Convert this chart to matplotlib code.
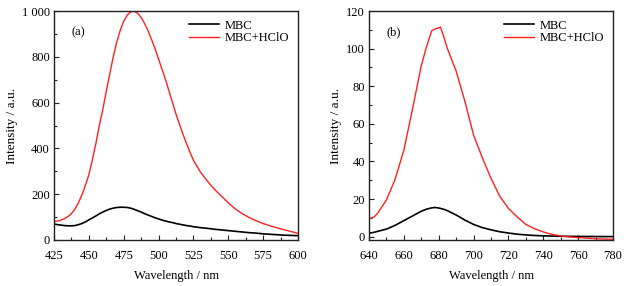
import matplotlib
matplotlib.use("Agg")
import matplotlib.pyplot as plt
from matplotlib.ticker import MultipleLocator

plt.rcParams['font.family'] = ['Liberation Serif', 'DejaVu Serif']
plt.rcParams['font.size'] = 8.5

# panel (a) data
wl_a = [425, 427.5, 430, 432.5, 435, 437.5, 440, 442.5, 445, 447.5, 450, 452.5, 455, 457.5,
        460, 462.5, 465, 467.5, 470, 472.5, 475, 477.5, 480, 482.5, 485, 487.5, 490, 492.5,
        495, 497.5, 500, 502.5, 505, 507.5, 510, 512.5, 515, 517.5, 520, 522.5, 525, 530,
        535, 540, 545, 550, 555, 560, 565, 570, 575, 580, 585, 590, 595, 600]
mbc_a = [70, 67, 65, 63, 62, 62, 63, 67, 72, 79, 88, 96, 105, 114,
         122, 129, 135, 139, 142, 143, 143, 142, 139, 134, 128, 122, 115, 109,
         103, 97, 92, 87, 83, 79, 76, 72, 69, 66, 63, 61, 58, 54,
         51, 47, 44, 41, 38, 35, 32, 30, 27, 25, 23, 21, 20, 19]
hclo_a = [80, 83, 87, 93, 102, 115, 135, 162, 197, 238, 285, 350, 420, 500,
          570, 650, 725, 800, 865, 915, 955, 982, 996, 999, 990, 972, 945, 913,
          875, 835, 790, 745, 700, 650, 600, 550, 505, 462, 422, 384, 348, 297,
          257, 222, 192, 162, 136, 115, 98, 84, 72, 62, 53, 45, 37, 29]

# panel (b) data
wl_b = [640, 643, 645, 650, 655, 660, 665, 670, 673, 676, 678, 680, 681, 683, 685,
        690, 695, 700, 705, 710, 715, 720, 725, 730, 735, 740, 745, 750, 755,
        760, 765, 770, 775, 780]
mbc_b = [1.8, 2.3, 2.8, 4.0, 6.0, 8.5, 11.0, 13.5, 14.6, 15.3, 15.5, 15.2, 15.0, 14.5, 13.8,
         11.5, 8.8, 6.5, 4.8, 3.6, 2.6, 1.9, 1.3, 0.9, 0.6, 0.4, 0.3, 0.2, 0.15,
         0.1, 0.08, 0.05, 0.02, 0.0]
hclo_b = [9.5, 10.5, 12.5, 19.5, 30.5, 46, 68, 91, 101, 109.5, 110.5, 111, 111.5, 106, 100,
          88, 72, 54, 42, 31, 21.5, 15, 10.5, 6.5, 4.2, 2.5, 1.2, 0.4, -0.2,
          -0.5, -0.8, -1.1, -1.3, -1.4]

fig = plt.figure(figsize=(6.3, 2.86), dpi=100)
ax1 = fig.add_axes([54/630, 46/286, 244/630, 229/286])
ax2 = fig.add_axes([369/630, 46/286, 244/630, 229/286])

def style(ax):
    for s in ax.spines.values():
        s.set_linewidth(1.0)
        s.set_color('#222222')
    ax.tick_params(which='both', direction='in', top=False, right=False, color='#222222')
    ax.tick_params(which='major', length=3.5, width=0.8)
    ax.tick_params(which='minor', length=2, width=0.8)
    ax.tick_params(axis='x', which='major', pad=7, labelsize=9)
    ax.tick_params(axis='y', which='major', pad=3, labelsize=9)
    ax.set_xlabel('Wavelength / nm', labelpad=6, fontsize=9)
    ax.set_ylabel('Intensity / a.u.', labelpad=3, fontsize=9.5)
    ax.legend(loc='upper right', frameon=False, handlelength=2.4, handletextpad=0.5,
              labelspacing=0.05, borderaxespad=0.3, fontsize=9)

ax1.plot(wl_a, mbc_a, color='black', lw=1.2, label='MBC')
ax1.plot(wl_a, hclo_a, color='#ff2020', lw=1.0, label='MBC+HClO')
ax1.set_xlim(425, 600)
ax1.set_ylim(0, 1000)
ax1.xaxis.set_major_locator(MultipleLocator(25))
ax1.xaxis.set_minor_locator(MultipleLocator(12.5))
ax1.set_yticks([0, 200, 400, 600, 800, 1000], ['0', '200', '400', '600', '800', '1 000'])
ax1.yaxis.set_minor_locator(MultipleLocator(100))
ax1.text(0.07, 0.905, '(a)', transform=ax1.transAxes, va='center', fontsize=9)
style(ax1)

ax2.plot(wl_b, mbc_b, color='black', lw=1.2, label='MBC')
ax2.plot(wl_b, hclo_b, color='#ff2020', lw=1.0, label='MBC+HClO')
ax2.set_xlim(640, 780)
ax2.set_ylim(-1.8, 120)
ax2.xaxis.set_major_locator(MultipleLocator(20))
ax2.xaxis.set_minor_locator(MultipleLocator(10))
ax2.yaxis.set_major_locator(MultipleLocator(20))
ax2.yaxis.set_minor_locator(MultipleLocator(10))
ax2.text(0.07, 0.905, '(b)', transform=ax2.transAxes, va='center', fontsize=9)
style(ax2)

fig.savefig('out.png', dpi=100)
